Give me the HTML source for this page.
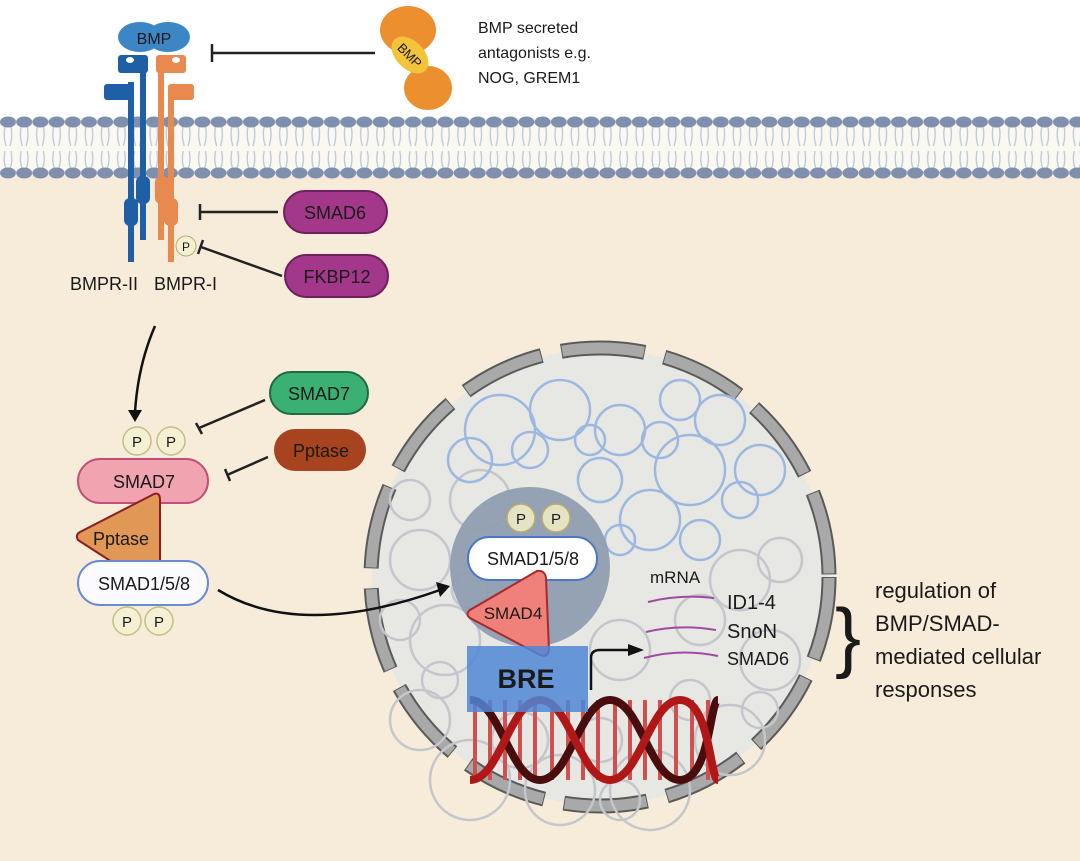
<!DOCTYPE html>
<html><head><meta charset="utf-8"><style>
body{margin:0;background:#fff}
svg{display:block}
text{font-family:"Liberation Sans",sans-serif;fill:#1a1a1a}
</style></head><body>
<svg width="1080" height="861" viewBox="0 0 1080 861" xmlns="http://www.w3.org/2000/svg">
<defs>
<pattern id="mem" x="0" y="114" width="16.2" height="70" patternUnits="userSpaceOnUse">
<path d="M5 12 q-2 10 1 20 M11 12 q2 10 -1 20 M5 37 q-2 10 1 18 M11 37 q2 10 -1 18" stroke="#b9c6dc" stroke-width="1.3" fill="none"/>
<ellipse cx="8" cy="8" rx="8" ry="5.5" fill="#7f8fae"/>
<ellipse cx="8" cy="59" rx="8" ry="5.5" fill="#7f8fae"/>
</pattern>
</defs>
<rect width="1080" height="861" fill="#f7ecd9"/>
<rect width="1080" height="118" fill="#fff"/>
<rect x="0" y="118" width="1080" height="58" fill="#fbf8f2"/>
<rect x="0" y="114" width="1080" height="70" fill="url(#mem)"/>

<!-- receptors -->
<g fill="#1f5fa6">
<rect x="128" y="82" width="6" height="180"/>
<rect x="124" y="198" width="14" height="28" rx="6"/>
<rect x="104" y="84" width="28" height="16" rx="3"/>
<rect x="118" y="55" width="30" height="18" rx="3"/>
<rect x="140" y="60" width="6" height="180"/>
<rect x="136" y="176" width="14" height="28" rx="6"/>
</g>
<g fill="#e88a50">
<rect x="156" y="55" width="30" height="18" rx="3"/>
<rect x="158" y="60" width="6" height="180"/>
<rect x="155" y="176" width="14" height="28" rx="6"/>
<rect x="168" y="84" width="26" height="16" rx="3"/>
<rect x="168" y="86" width="6" height="176"/>
<rect x="164" y="198" width="14" height="28" rx="6"/>
</g>
<ellipse cx="130" cy="60" rx="4" ry="3" fill="#fff"/><ellipse cx="176" cy="60" rx="4" ry="3" fill="#fff"/>
<g fill="#3d86c6">
<ellipse cx="140" cy="37" rx="22" ry="15"/><ellipse cx="168" cy="37" rx="22" ry="15"/>
</g>
<text x="154" y="44" font-size="16" text-anchor="middle">BMP</text>
<path d="M212 44 V62 M212 53 H375" stroke="#222" stroke-width="2.5" fill="none"/>
<g fill="#ec8f2e"><ellipse cx="408" cy="30" rx="28" ry="24"/><ellipse cx="428" cy="88" rx="24" ry="22"/></g>
<g fill="#f2c43a" transform="rotate(45 410 55)"><ellipse cx="410" cy="55" rx="22" ry="14"/></g>
<text x="410" y="60" font-size="13" text-anchor="middle" transform="rotate(45 410 55)">BMP</text>
<text x="478" y="33" font-size="16">BMP secreted</text>
<text x="478" y="58" font-size="16">antagonists e.g.</text>
<text x="478" y="83" font-size="16">NOG, GREM1</text>

<path d="M200 204 V220 M200 212 H278" stroke="#222" stroke-width="2.5"/>
<rect x="284" y="191" width="103" height="42" rx="21" fill="#a3388a" stroke="#6e1f5e" stroke-width="2"/>
<text x="335" y="219" font-size="18" text-anchor="middle">SMAD6</text>
<circle cx="186" cy="246" r="10" fill="#f4f0d4" stroke="#b8ad6a"/>
<text x="186" y="251" font-size="12" text-anchor="middle">P</text>
<path d="M203 240 L198 254 M201 247 L282 276" stroke="#222" stroke-width="2.5"/>
<rect x="285" y="255" width="103" height="42" rx="21" fill="#a3388a" stroke="#6e1f5e" stroke-width="2"/>
<text x="337" y="283" font-size="18" text-anchor="middle">FKBP12</text>
<text x="70" y="290" font-size="18">BMPR-II</text>
<text x="154" y="290" font-size="18">BMPR-I</text>

<path d="M155 326 Q138 365 135 412" stroke="#111" stroke-width="2.5" fill="none"/>
<path d="M128 410 L142 410 L135 422Z" fill="#111"/>
<circle cx="137" cy="441" r="14" fill="#f4f0d4" stroke="#c5bd85" stroke-width="1.5"/><text x="137" y="447" font-size="15" text-anchor="middle">P</text>
<circle cx="171" cy="441" r="14" fill="#f4f0d4" stroke="#c5bd85" stroke-width="1.5"/><text x="171" y="447" font-size="15" text-anchor="middle">P</text>
<path d="M196 423 L202 434 M199 428 L265 400" stroke="#222" stroke-width="2.5"/>
<rect x="270" y="372" width="98" height="42" rx="21" fill="#3bb073" stroke="#1f6a44" stroke-width="2"/>
<text x="319" y="400" font-size="18" text-anchor="middle">SMAD7</text>
<path d="M225 469 L230 481 M227 475 L268 457" stroke="#222" stroke-width="2.5"/>
<rect x="274" y="429" width="92" height="42" rx="21" fill="#a8431f"/>
<text x="321" y="457" font-size="18" text-anchor="middle">Pptase</text>
<rect x="78" y="459" width="130" height="44" rx="22" fill="#f1a3b0" stroke="#c0507a" stroke-width="2"/>
<text x="144" y="488" font-size="18" text-anchor="middle">SMAD7</text>
<path d="M154 494 Q160 492 160 500 L160 562 L112 562 L78 540 Q75 535 80 532Z" fill="#e19755" stroke="#8b1f1f" stroke-width="2"/>
<text x="121" y="545" font-size="18" text-anchor="middle">Pptase</text>
<rect x="78" y="561" width="130" height="44" rx="22" fill="#fafaff" stroke="#6a8ad6" stroke-width="2"/>
<text x="144" y="590" font-size="18" text-anchor="middle">SMAD1/5/8</text>
<circle cx="127" cy="621" r="14" fill="#f4f0d4" stroke="#c5bd85" stroke-width="1.5"/><text x="127" y="627" font-size="15" text-anchor="middle">P</text>
<circle cx="159" cy="621" r="14" fill="#f4f0d4" stroke="#c5bd85" stroke-width="1.5"/><text x="159" y="627" font-size="15" text-anchor="middle">P</text>

<!-- nucleus -->
<circle cx="600" cy="577" r="228" fill="#e7e7e4"/>
<circle cx="600" cy="577" r="229" fill="none" stroke="#5a5a5a" stroke-width="15" stroke-dasharray="84 20"/>
<circle cx="600" cy="577" r="229" fill="none" stroke="#a9a9a9" stroke-width="11" stroke-dasharray="82 22" stroke-dashoffset="-1"/>
<g fill="none" stroke="#c3c7cc" stroke-width="2.5">
<circle cx="420" cy="560" r="30"/><circle cx="445" cy="640" r="35"/><circle cx="420" cy="720" r="30"/><circle cx="470" cy="780" r="40"/>
<circle cx="560" cy="790" r="35"/><circle cx="650" cy="790" r="40"/><circle cx="730" cy="740" r="35"/><circle cx="770" cy="660" r="30"/>
<circle cx="740" cy="580" r="30"/><circle cx="480" cy="500" r="30"/><circle cx="620" cy="650" r="30"/><circle cx="700" cy="620" r="25"/>
<circle cx="400" cy="620" r="20"/><circle cx="520" cy="740" r="28"/><circle cx="780" cy="560" r="22"/>
<circle cx="440" cy="680" r="18"/><circle cx="600" cy="740" r="22"/><circle cx="690" cy="700" r="20"/><circle cx="760" cy="710" r="18"/>
<circle cx="410" cy="500" r="20"/><circle cx="470" cy="590" r="18"/><circle cx="620" cy="800" r="20"/>
</g>
<g fill="none" stroke="#9cb8e0" stroke-width="2.5">
<circle cx="500" cy="430" r="35"/><circle cx="560" cy="410" r="30"/><circle cx="620" cy="430" r="25"/><circle cx="690" cy="470" r="35"/>
<circle cx="720" cy="420" r="25"/><circle cx="650" cy="520" r="30"/><circle cx="760" cy="470" r="25"/><circle cx="600" cy="480" r="22"/>
<circle cx="470" cy="460" r="22"/><circle cx="680" cy="400" r="20"/><circle cx="700" cy="540" r="20"/>
<circle cx="530" cy="450" r="18"/><circle cx="590" cy="440" r="15"/><circle cx="660" cy="440" r="18"/><circle cx="740" cy="500" r="18"/><circle cx="620" cy="540" r="15"/>
</g>
<circle cx="530" cy="567" r="80" fill="#8d9cb0" opacity="0.92"/>
<circle cx="521" cy="518" r="14" fill="#e6e2c4" stroke="#b8ad6a" stroke-width="1.5"/><text x="521" y="524" font-size="15" text-anchor="middle">P</text>
<circle cx="556" cy="518" r="14" fill="#e6e2c4" stroke="#b8ad6a" stroke-width="1.5"/><text x="556" y="524" font-size="15" text-anchor="middle">P</text>
<rect x="468" y="537" width="129" height="43" rx="21" fill="#fff" stroke="#4a76c8" stroke-width="2"/>
<text x="533" y="565" font-size="18" text-anchor="middle">SMAD1/5/8</text>
<path d="M537 571 Q545 570 546 578 L549 650 Q548 658 540 655 L470 618 Q465 614 470 610Z" fill="#f0807a" stroke="#a82a2a" stroke-width="2"/>
<text x="513" y="619" font-size="17" text-anchor="middle">SMAD4</text>
<path d="M218 590 Q300 640 440 590" stroke="#111" stroke-width="2.5" fill="none"/>
<path d="M436 582 L450 586 L440 597Z" fill="#111"/>
<g stroke-width="4">
<path d="M475 700V780 M490 700V780 M505 700V780 M520 700V780 M535 700V780 M552 700V780 M568 700V780 M583 700V780 M598 700V780 M615 700V780 M630 700V780 M645 700V780 M660 700V780 M676 700V780 M692 700V780 M708 700V780" stroke="#d05050"/>
</g>
<path d="M470 700 C500 700 510 780 540 780 S580 700 610 700 S650 780 680 780 S710 700 718 700" stroke="#4a0d0d" stroke-width="8" fill="none"/>
<path d="M470 780 C500 780 510 700 540 700 S580 780 610 780 S650 700 680 700 S710 780 718 780" stroke="#b01818" stroke-width="8" fill="none"/>
<rect x="467" y="646" width="121" height="66" fill="#4f86d6" opacity="0.85"/>
<text x="526" y="688" font-size="27" font-weight="bold" text-anchor="middle">BRE</text>
<path d="M591 690 V658 Q591 650 600 650 H630" stroke="#111" stroke-width="2.5" fill="none"/>
<path d="M628 644 L644 650 L628 656Z" fill="#111"/>
<text x="650" y="583" font-size="17">mRNA</text>
<g fill="none" stroke="#a04aa0" stroke-width="2">
<path d="M648 602 Q680 594 714 598"/><path d="M646 632 Q680 624 716 630"/><path d="M644 658 Q680 648 718 656"/>
</g>
<text x="727" y="609" font-size="20">ID1-4</text>
<text x="727" y="638" font-size="20">SnoN</text>
<text x="727" y="665" font-size="18">SMAD6</text>
<text x="835" y="663" font-size="78" font-family="Liberation Serif">}</text>
<text x="875" y="598" font-size="22">regulation of</text>
<text x="875" y="631" font-size="22">BMP/SMAD-</text>
<text x="875" y="664" font-size="22">mediated cellular</text>
<text x="875" y="697" font-size="22">responses</text>
</svg>
</body></html>
